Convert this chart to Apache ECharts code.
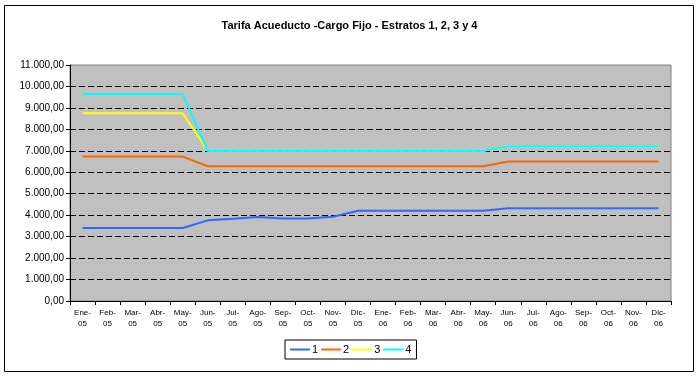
<!DOCTYPE html>
<html>
<head>
<meta charset="utf-8">
<script src="https://cdn.jsdelivr.net/npm/echarts@6/dist/echarts.min.js"></script>
<style>
  html, body { margin: 0; padding: 0; background: #fff; }
  #main { width: 699px; height: 377px; }
</style>
</head>
<body>
<div id="main"></div>
<script>
// meses (dos lineas: mes / año)
const months = ['Ene-\n05', 'Feb-\n05', 'Mar-\n05', 'Abr-\n05', 'May-\n05', 'Jun-\n05',
  'Jul-\n05', 'Ago-\n05', 'Sep-\n05', 'Oct-\n05', 'Nov-\n05', 'Dic-\n05',
  'Ene-\n06', 'Feb-\n06', 'Mar-\n06', 'Abr-\n06', 'May-\n06', 'Jun-\n06',
  'Jul-\n06', 'Ago-\n06', 'Sep-\n06', 'Oct-\n06', 'Nov-\n06', 'Dic-\n06'];

const estrato1 = [3400, 3400, 3400, 3400, 3400, 3760, 3830, 3910, 3840, 3840, 3930, 4210,
  4210, 4210, 4210, 4210, 4210, 4320, 4320, 4320, 4320, 4320, 4320, 4320];
const estrato2 = [6730, 6730, 6730, 6730, 6730, 6280, 6280, 6280, 6280, 6280, 6280, 6280,
  6280, 6280, 6280, 6280, 6280, 6500, 6500, 6500, 6500, 6500, 6500, 6500];
const estrato3 = [8750, 8750, 8750, 8750, 8750, 7000, 7000, 7000, 7000, 7000, 7000, 7000,
  7000, 7000, 7000, 7000, 7000, 7210, 7210, 7210, 7210, 7210, 7210, 7210];
const estrato4 = [9650, 9650, 9650, 9650, 9650, 7000, 7000, 7000, 7000, 7000, 7000, 7000,
  7000, 7000, 7000, 7000, 7000, 7210, 7210, 7210, 7210, 7210, 7210, 7210];

const seriesNames = ['1', '2', '3', '4'];
const seriesColors = ['#3366ff', '#ff6600', '#ffff00', '#00ffff'];

const chart = echarts.init(document.getElementById('main'), null, { renderer: 'canvas' });

// 11000 -> "11.000,00"
function fmt(v) {
  const s = String(Math.round(v)).replace(/\B(?=(\d{3})+(?!\d))/g, '.');
  return s + ',00';
}

const font = 'Arial, "Liberation Sans", sans-serif';

const option = {
  backgroundColor: '#ffffff',
  animation: false,
  title: {
    text: 'Tarifa Acueducto -Cargo Fijo - Estratos 1, 2, 3 y 4',
    left: 'center',
    top: 15,
    textStyle: { fontFamily: font, fontSize: 11, fontWeight: 'bold', color: '#000' }
  },
  graphic: [{
    type: 'rect',
    shape: { x: 4.5, y: 5.5, width: 689, height: 366 },
    style: { fill: null, stroke: '#000', lineWidth: 1 },
    silent: true,
    z: -1
  }],
  legend: {
    data: seriesNames,
    left: 285,
    top: 340,
    itemWidth: 20,
    itemHeight: 2,
    itemGap: 2,
    padding: [4, 5, 4, 4],
    borderColor: '#000',
    borderWidth: 1,
    textStyle: { fontFamily: font, fontSize: 11, color: '#000', padding: [0, 0, 0, -3] }
  },
  grid: {
    left: 70,
    right: 28,
    top: 65,
    bottom: 76,
    show: true,
    backgroundColor: '#c0c0c0',
    borderColor: '#808080',
    borderWidth: 1
  },
  xAxis: {
    type: 'category',
    data: months,
    boundaryGap: true,
    axisLine: { lineStyle: { color: '#000', width: 1 } },
    axisTick: { show: true, alignWithLabel: false, length: 4, lineStyle: { color: '#000' } },
    axisLabel: {
      interval: 0,
      margin: 6,
      fontFamily: '"Liberation Sans Narrow", "Arial Narrow", ' + font,
      fontSize: 8,
      lineHeight: 11,
      color: '#000'
    }
  },
  yAxis: {
    type: 'value',
    min: 0,
    max: 11000,
    interval: 1000,
    axisLine: { show: true, lineStyle: { color: '#000', width: 1 } },
    axisTick: { show: true, length: 4, lineStyle: { color: '#000' } },
    axisLabel: { formatter: fmt, fontFamily: font, fontSize: 10, color: '#000', margin: 6 },
    splitLine: {
      show: true,
      showMinLine: false,
      showMaxLine: false,
      lineStyle: { color: '#000', type: [6, 3], width: 1 }
    }
  },
  series: [estrato1, estrato2, estrato3, estrato4].map((d, i) => ({
    name: seriesNames[i],
    type: 'line',
    data: d,
    symbol: 'none',
    color: seriesColors[i],
    lineStyle: { width: 2, color: seriesColors[i] }
  }))
};

chart.setOption(option);
</script>
</body>
</html>
